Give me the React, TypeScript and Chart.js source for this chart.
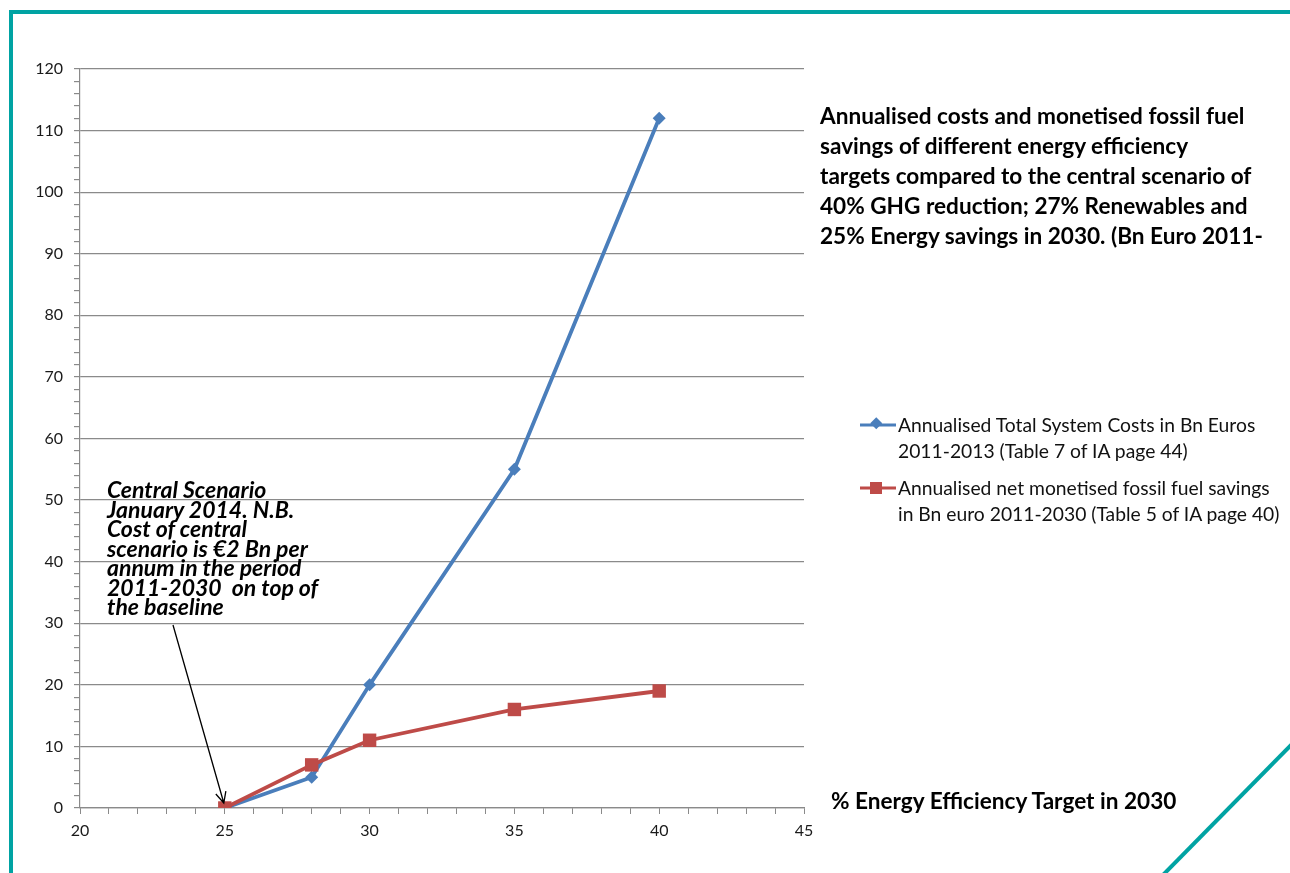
import React, { useEffect, useRef } from "react";
import { Chart, registerables } from "chart.js";

Chart.register(...registerables);

const xValues = [25, 28, 30, 35, 40];
const totalCosts = [0, 5, 20, 55, 112];
const fuelSavings = [0, 7, 11, 16, 19];

const seriesNames = [
  "Annualised Total System Costs in Bn Euros 2011-2013 (Table 7 of IA page 44)",
  "Annualised net monetised fossil fuel savings in Bn euro 2011-2030 (Table 5 of IA page 40)",
];

const titleLines = [
  "Annualised costs and monetised fossil fuel",
  "savings of different energy efficiency",
  "targets compared to the central scenario of",
  "40% GHG reduction; 27% Renewables and",
  "25% Energy savings in 2030. (Bn Euro 2011-",
];

const noteLines = [
  "Central Scenario",
  "January 2014. N.B.",
  "Cost of central",
  "scenario is €2 Bn per",
  "annum in the period",
  "2011-2030  on top of",
  "the baseline",
];

const xAxisTitle = "% Energy Efficiency Target in 2030";

const BLUE = "#4A7EBB";
const RED = "#BE4B48";
const GRID = "#8a8a8a";
const TEAL = "#00A3A3";
const FONT = "Lato, 'Open Sans', sans-serif";

export default function App() {
  const ref = useRef<HTMLCanvasElement | null>(null);

  useEffect(() => {
    if (!ref.current) return;
    const arrowPlugin = {
      id: "arrow",
      afterDatasetsDraw(chart: any) {
        const ctx = chart.ctx;
        const xs = chart.scales.x;
        const ys = chart.scales.y;
        const tx = xs.getPixelForValue(25) - 1;
        const ty = ys.getPixelForValue(0) - 5;
        const sx = 173;
        const sy = 625;
        ctx.save();
        ctx.strokeStyle = "#000";
        ctx.lineWidth = 1.3;
        ctx.beginPath();
        ctx.moveTo(sx, sy);
        ctx.lineTo(tx, ty);
        const ang = Math.atan2(ty - sy, tx - sx);
        const len = 12;
        const spread = 0.45;
        ctx.moveTo(tx - len * Math.cos(ang - spread), ty - len * Math.sin(ang - spread));
        ctx.lineTo(tx, ty);
        ctx.lineTo(tx - len * Math.cos(ang + spread), ty - len * Math.sin(ang + spread));
        ctx.stroke();
        ctx.restore();
      },
    };

    const chart = new Chart(ref.current, {
      type: "line",
      data: {
        datasets: [
          {
            label: seriesNames[0],
            data: xValues.map((x, i) => ({ x, y: totalCosts[i] })),
            borderColor: BLUE,
            backgroundColor: BLUE,
            borderWidth: 3.8,
            pointStyle: "rectRot",
            pointRadius: 6.5,
            pointBorderWidth: 0,
            order: 2,
          },
          {
            label: seriesNames[1],
            data: xValues.map((x, i) => ({ x, y: fuelSavings[i] })),
            borderColor: RED,
            backgroundColor: RED,
            borderWidth: 3.8,
            pointStyle: "rect",
            pointRadius: 9.5,
            pointBorderWidth: 0,
            order: 1,
          },
        ],
      },
      options: {
        responsive: false,
        animation: false,
        layout: { padding: { left: 0, top: 69, right: 486, bottom: 0 } },
        plugins: {
          legend: { display: false },
          tooltip: { enabled: false },
          title: { display: false },
        },
        scales: {
          x: {
            type: "linear",
            min: 20,
            max: 45,
            afterFit: (s: any) => {
              s.height = 65;
            },
            ticks: {
              stepSize: 1,
              autoSkip: false,
              maxRotation: 0,
              padding: 7,
              color: "#1a1a1a",
              font: { family: FONT, size: 16 },
              callback: (v: any) => (Number(v) % 5 === 0 ? String(v) : ""),
            },
            grid: {
              drawOnChartArea: false,
              drawTicks: true,
              tickLength: 6,
              tickColor: GRID,
            },
            border: { display: true, color: GRID, width: 1.2 },
          },
          y: {
            type: "linear",
            min: 0,
            max: 120,
            afterFit: (s: any) => {
              s.width = 80;
            },
            ticks: {
              stepSize: 2,
              autoSkip: false,
              padding: 11,
              color: "#1a1a1a",
              font: { family: FONT, size: 16 },
              callback: (v: any) => (Number(v) % 10 === 0 ? String(v) : ""),
            },
            grid: {
              color: (c: any) =>
                c.tick && Math.round(c.tick.value) % 10 === 0 ? GRID : "rgba(0,0,0,0)",
              tickColor: GRID,
              tickLength: 6,
              lineWidth: 1.2,
            },
            border: { display: true, color: GRID, width: 1.2 },
          },
        },
      },
      plugins: [arrowPlugin],
    });
    return () => chart.destroy();
  }, []);

  const abs = (o: React.CSSProperties): React.CSSProperties => ({ position: "absolute", ...o });

  return (
    <div
      style={{
        position: "fixed",
        left: 0,
        top: 0,
        width: 1290,
        height: 873,
        background: "#fff",
        overflow: "hidden",
        fontFamily: FONT,
      }}
    >
      <canvas ref={ref} width={1290} height={873} style={abs({ left: 0, top: 0 })} />

      {/* frame */}
      <div style={abs({ left: 9, top: 10, width: 1300, height: 4, background: TEAL })} />
      <div style={abs({ left: 9, top: 10, width: 4, height: 900, background: TEAL })} />
      <svg width={1290} height={873} style={abs({ left: 0, top: 0, pointerEvents: "none" })}>
        <line x1={1293} y1={743} x2={1162} y2={876} stroke={TEAL} strokeWidth={4} />
      </svg>

      {/* title */}
      <div
        style={abs({
          left: 820,
          top: 101,
          fontSize: 22.6,
          lineHeight: "30px",
          fontWeight: 700,
          color: "#000",
          whiteSpace: "nowrap",
        })}
      >
        {titleLines.map((l, i) => (
          <div key={i}>{l}</div>
        ))}
      </div>

      {/* legend */}
      <svg width={40} height={100} style={abs({ left: 858, top: 410 })}>
        <line x1={2} y1={15} x2={38} y2={15} stroke={BLUE} strokeWidth={3} />
        <rect x={14} y={9} width={8.5} height={8.5} fill={BLUE} transform="rotate(45 18.25 13.25)" />
        <line x1={2} y1={78} x2={38} y2={78} stroke={RED} strokeWidth={3} />
        <rect x={12} y={72} width={12} height={12} fill={RED} />
      </svg>
      <div style={abs({ left: 898, top: 412, fontSize: 19.3, lineHeight: "26px", color: "#111", whiteSpace: "nowrap" })}>
        <div>Annualised Total System Costs in Bn Euros</div>
        <div>2011-2013 (Table 7 of IA page 44)</div>
      </div>
      <div style={abs({ left: 898, top: 475, fontSize: 19.3, lineHeight: "26px", color: "#111", whiteSpace: "nowrap" })}>
        <div>Annualised net monetised fossil fuel savings</div>
        <div>in Bn euro 2011-2030 (Table 5 of IA page 40)</div>
      </div>

      {/* annotation */}
      <div
        style={abs({
          left: 107,
          top: 480,
          fontSize: 23,
          lineHeight: "19.5px",
          fontWeight: 700,
          fontStyle: "italic",
          color: "#000",
          whiteSpace: "pre",
        })}
      >
        {noteLines.map((l, i) => (
          <div key={i}>{l}</div>
        ))}
      </div>

      {/* x axis title */}
      <div
        style={abs({
          left: 831,
          top: 789,
          fontSize: 22.6,
          lineHeight: "24px",
          fontWeight: 700,
          color: "#000",
          whiteSpace: "nowrap",
        })}
      >
        {xAxisTitle}
      </div>
    </div>
  );
}
